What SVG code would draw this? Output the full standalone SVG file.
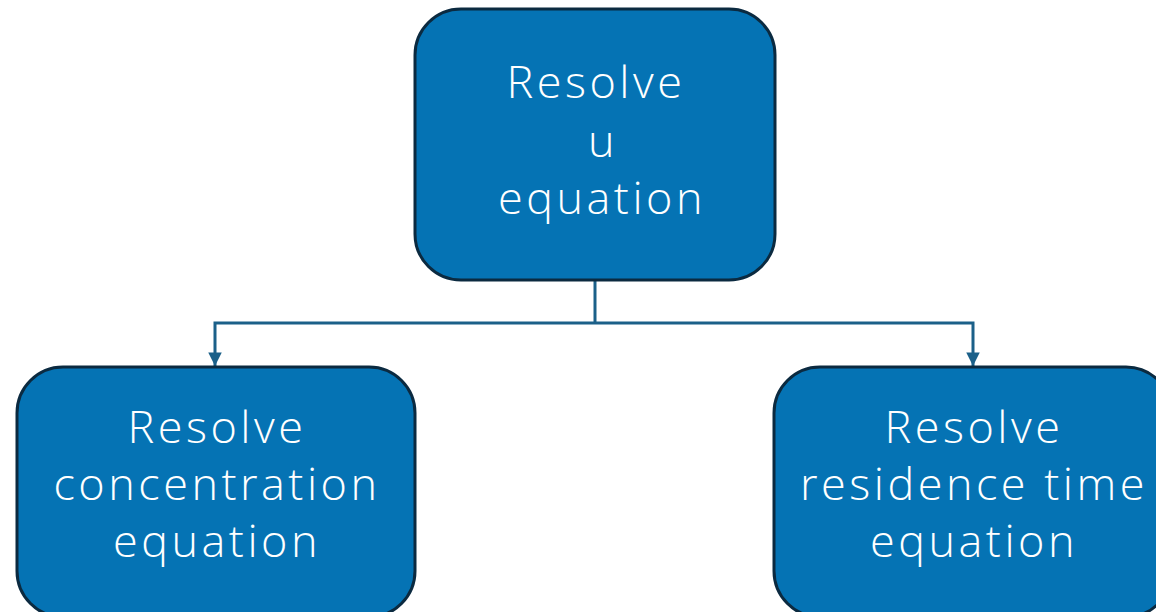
<svg xmlns="http://www.w3.org/2000/svg" width="1156" height="612" viewBox="0 0 1156 612">
<defs>
<style>
.box{fill:#0573b4;stroke:#0b2a40;stroke-width:3}
.lbl{font-family:"Open Sans","Liberation Sans",sans-serif;font-weight:300;font-size:45px;letter-spacing:3.5px;fill:#ffffff;text-anchor:middle;font-variant-ligatures:none}
.conn{fill:none;stroke:#1b6089;stroke-width:3}
</style>
<marker id="arr" viewBox="0 0 10 10" refX="10" refY="5" markerWidth="5.5" markerHeight="4.5" orient="auto" markerUnits="strokeWidth">
<path d="M0,0 L10,5 L0,10 z" fill="#1b6089"/>
</marker>
</defs>
<g id="connectors">
<path class="conn" d="M595,280 V323"/>
<path class="conn" d="M595,323 H215 V366" marker-end="url(#arr)"/>
<path class="conn" d="M595,323 H973 V366" marker-end="url(#arr)"/>
</g>
<g id="node-u">
<rect class="box" x="415" y="9" width="360" height="271" rx="46"/>
<text class="lbl" x="596" y="98">Resolve</text>
<text class="lbl" x="603" y="157">u</text>
<text class="lbl" x="602" y="214">equation</text>
</g>
<g id="node-concentration">
<rect class="box" x="17" y="367" width="398" height="250" rx="46"/>
<text class="lbl" x="217" y="443">Resolve</text>
<text class="lbl" x="217" y="500">concentration</text>
<text class="lbl" x="217" y="557">equation</text>
</g>
<g id="node-residence">
<rect class="box" x="774" y="367" width="398" height="250" rx="46"/>
<text class="lbl" x="974" y="443">Resolve</text>
<text class="lbl" x="974" y="500">residence time</text>
<text class="lbl" x="974" y="557">equation</text>
</g>
</svg>
